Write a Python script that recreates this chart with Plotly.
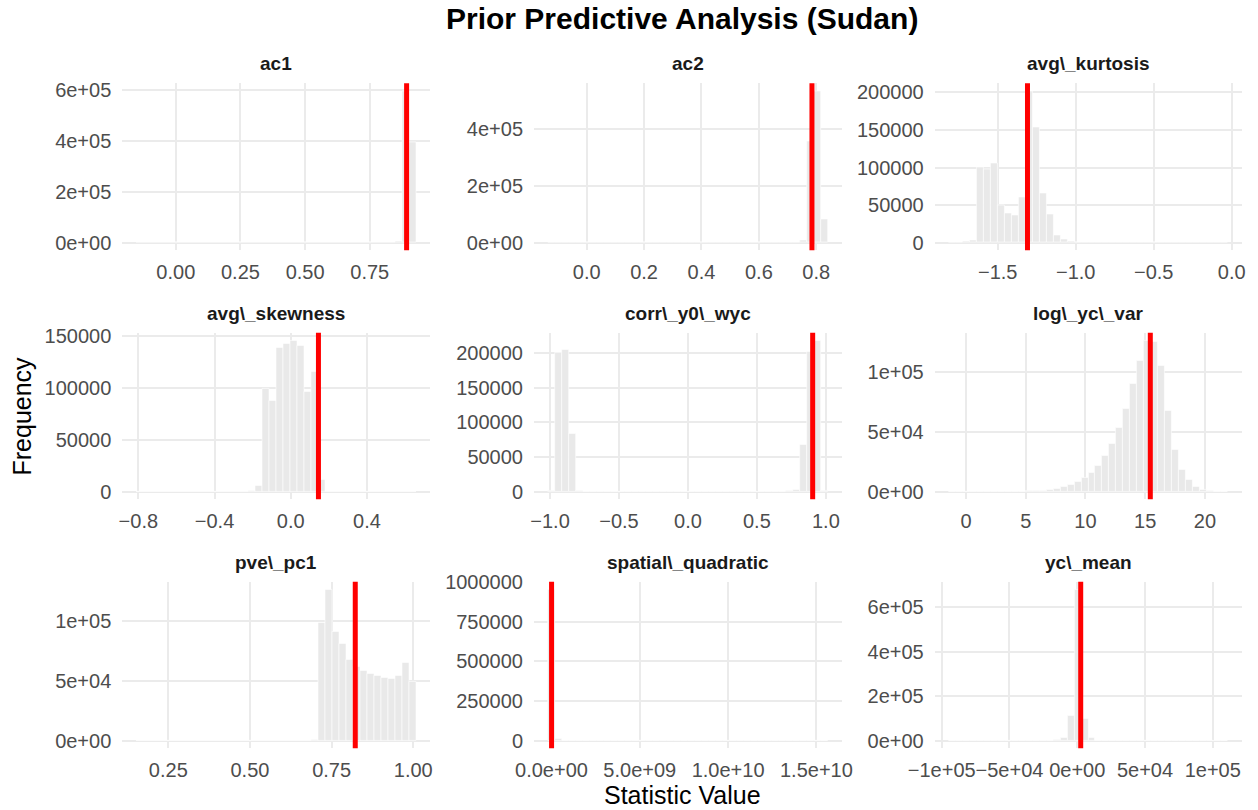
import plotly.graph_objects as go

# ---------------- data ----------------
panel_titles = ["ac1", "ac2", "avg\\_kurtosis",
                "avg\\_skewness", "corr\\_y0\\_wyc", "log\\_yc\\_var",
                "pve\\_pc1", "spatial\\_quadratic", "yc\\_mean"]

# left edge of the first bin and bin width (40 bins per panel)
bin_starts = [-0.153, -0.1349, -1.8144, -0.8106, -1.0146, -1.449, 0.152, -1.98e8, -94870]
bin_widths = [0.02705, 0.02437, 0.04473, 0.0367, 0.0507, 0.584, 0.02141, 3.96e8, 5149]

# observed statistic (red line)
observed = [0.8926, 0.785, -1.309, 0.1454, 0.9043, 15.43, 0.8224, 5e6, 2580]

ac1_counts = [30, 20, 20, 30, 20, 20, 20, 20, 20, 20, 20, 20, 20, 20, 20, 20, 20, 20, 20, 20,
              20, 30, 30, 30, 30, 40, 40, 50, 60, 80, 100, 150, 200, 300, 500, 1000, 2500, 7000,
              595000, 393000]
ac2_counts = [40, 30, 30, 30, 30, 30, 30, 30, 30, 30, 30, 30, 30, 30, 30, 30, 30, 30, 30, 30,
              30, 30, 40, 40, 40, 50, 50, 60, 80, 100, 150, 200, 300, 500, 900, 2000, 9000,
              355000, 533000, 83000]
avg_kurtosis_counts = [800, 1000, 1500, 3500, 100000, 98000, 106000, 50000, 39000, 37000,
                       61000, 202000, 154000, 66000, 38000, 9300, 4500, 2000, 1000, 700,
                       500, 400, 300, 250, 200, 150, 120, 100, 100, 80, 80, 60, 50, 50, 40,
                       40, 30, 30, 20, 20]
avg_skewness_counts = [30, 30, 30, 30, 30, 30, 30, 40, 40, 50, 60, 80, 100, 150, 200, 300, 600,
                       5800, 99400, 87500, 138000, 142700, 145600, 140000, 96000, 115000, 12000,
                       400, 100, 60, 40, 30, 30, 30, 30, 30, 30, 30, 30, 30]
corr_y0_wyc_counts = [1500, 200000, 205000, 83400, 1500, 300, 150, 100, 80, 60, 50, 50, 50, 50,
                      50, 50, 50, 50, 50, 50, 50, 50, 50, 50, 50, 50, 50, 60, 80, 100, 150, 200,
                      300, 500, 900, 2500, 67500, 202000, 218000, 1000]
log_yc_var_counts = [300, 150, 100, 50, 50, 50, 80, 100, 150, 200, 300, 500, 700, 1000,
                     1400, 2800, 4000, 5600, 8400, 11800, 16300, 21800, 30000, 40000, 53800,
                     70000, 90500, 110000, 127000, 126000, 105600, 68000, 35600, 18200, 9800,
                     4200, 1500, 500, 200, 100]
pve_pc1_counts = [50, 20, 20, 20, 20, 20, 20, 20, 20, 20, 20, 20, 20, 20, 20, 20, 20, 20, 20,
                  30, 40, 60, 100, 200, 400, 1000, 98500, 126700, 91500, 81000, 67600, 62000,
                  58500, 56300, 54000, 53000, 52000, 54300, 65600, 49000]
spatial_quadratic_counts = [953500, 12000, 3000, 1500, 900, 600, 400, 300, 250, 200, 150, 120,
                            100, 90, 80, 70, 60, 50, 50, 40, 40, 40, 30, 30, 30, 30, 20, 20,
                            20, 20, 20, 20, 20, 20, 20, 20, 20, 20, 20, 20]
yc_mean_counts = [100, 60, 60, 60, 60, 60, 60, 80, 100, 150, 200, 300, 400, 600, 1000, 2500,
                  12000, 113000, 680000, 100000, 12000, 2000, 800, 400, 300, 200, 150, 100,
                  100, 80, 60, 60, 60, 50, 50, 50, 50, 50, 50, 50]

all_counts = [ac1_counts, ac2_counts, avg_kurtosis_counts, avg_skewness_counts,
              corr_y0_wyc_counts, log_yc_var_counts, pve_pc1_counts,
              spatial_quadratic_counts, yc_mean_counts]

x_tickvals = [[0, 0.25, 0.5, 0.75],
              [0, 0.2, 0.4, 0.6, 0.8],
              [-1.5, -1.0, -0.5, 0.0],
              [-0.8, -0.4, 0.0, 0.4],
              [-1.0, -0.5, 0.0, 0.5, 1.0],
              [0, 5, 10, 15, 20],
              [0.25, 0.5, 0.75, 1.0],
              [0, 5e9, 1e10, 1.5e10],
              [-1e5, -5e4, 0, 5e4, 1e5]]
x_ticktext = [["0.00", "0.25", "0.50", "0.75"],
              ["0.0", "0.2", "0.4", "0.6", "0.8"],
              ["\u22121.5", "\u22121.0", "\u22120.5", "0.0"],
              ["\u22120.8", "\u22120.4", "0.0", "0.4"],
              ["\u22121.0", "\u22120.5", "0.0", "0.5", "1.0"],
              ["0", "5", "10", "15", "20"],
              ["0.25", "0.50", "0.75", "1.00"],
              ["0.0e+00", "5.0e+09", "1.0e+10", "1.5e+10"],
              ["\u22121e+05", "\u22125e+04", "0e+00", "5e+04", "1e+05"]]
y_tickvals = [[0, 2e5, 4e5, 6e5],
              [0, 2e5, 4e5],
              [0, 50000, 100000, 150000, 200000],
              [0, 50000, 100000, 150000],
              [0, 50000, 100000, 150000, 200000],
              [0, 5e4, 1e5],
              [0, 5e4, 1e5],
              [0, 250000, 500000, 750000, 1000000],
              [0, 2e5, 4e5, 6e5]]
y_ticktext = [["0e+00", "2e+05", "4e+05", "6e+05"],
              ["0e+00", "2e+05", "4e+05"],
              ["0", "50000", "100000", "150000", "200000"],
              ["0", "50000", "100000", "150000"],
              ["0", "50000", "100000", "150000", "200000"],
              ["0e+00", "5e+04", "1e+05"],
              ["0e+00", "5e+04", "1e+05"],
              ["0", "250000", "500000", "750000", "1000000"],
              ["0e+00", "2e+05", "4e+05", "6e+05"]]

main_title = "Prior Predictive Analysis (Sudan)"
x_title = "Statistic Value"
y_title = "Frequency"

# ---------------- layout geometry ----------------
W, H = 1258, 810
col_px = [(122.3, 430.0), (534.0, 841.7), (934.7, 1241.7)]
row_px = [(83.3, 250.3), (332.7, 499.3), (581.7, 748.3)]

FONT = "Liberation Sans, Arial, sans-serif"
GRID = "#ebebeb"
BAR_FILL = "#e9e9e9"

fig = go.Figure()
layout = dict(
    template="none",
    width=W, height=H,
    margin=dict(l=0, r=0, t=0, b=0, pad=0, autoexpand=False),
    paper_bgcolor="white", plot_bgcolor="white",
    showlegend=False,
    bargap=0,
    font=dict(family=FONT, color="#4d4d4d"),
)
shapes = []
annotations = []

for i in range(9):
    r, c = divmod(i, 3)
    n = i + 1
    xa = "xaxis" if n == 1 else f"xaxis{n}"
    ya = "yaxis" if n == 1 else f"yaxis{n}"
    xr = "x" if n == 1 else f"x{n}"
    yr = "y" if n == 1 else f"y{n}"

    cnt = all_counts[i]
    w = bin_widths[i]
    s = bin_starts[i]
    centers = [s + w * (k + 0.5) for k in range(len(cnt))]

    fig.add_trace(go.Bar(
        x=centers, y=cnt, width=[w] * len(cnt),
        marker=dict(color=BAR_FILL, line=dict(color="white", width=0.6)),
        xaxis=xr, yaxis=yr, hoverinfo="x+y",
    ))

    lo = min(s, observed[i])
    hi = max(s + w * len(cnt), observed[i])
    pad = 0.05 * (hi - lo)
    M = max(cnt)

    x0p, x1p = col_px[c]
    y0p, y1p = row_px[r]
    layout[xa] = dict(
        domain=[x0p / W, x1p / W], anchor=yr,
        range=[lo - pad, hi + pad], autorange=False,
        tickmode="array", tickvals=x_tickvals[i], ticktext=x_ticktext[i],
        tickangle=0, automargin=False,
        showgrid=True, gridcolor=GRID, gridwidth=1.5,
        zeroline=False, showline=False,
        ticks="outside", ticklen=4, tickcolor="rgba(0,0,0,0)",
        tickfont=dict(size=20, color="#4d4d4d", family=FONT),
    )
    layout[ya] = dict(
        domain=[1 - y1p / H, 1 - y0p / H], anchor=xr,
        range=[-0.05 * M, 1.05 * M], autorange=False,
        tickmode="array", tickvals=y_tickvals[i], ticktext=y_ticktext[i],
        automargin=False,
        showgrid=True, gridcolor=GRID, gridwidth=1.5,
        zeroline=False, showline=False,
        ticks="outside", ticklen=6, tickcolor="rgba(0,0,0,0)",
        tickfont=dict(size=20, color="#4d4d4d", family=FONT),
    )
    shapes.append(dict(
        type="line", xref=xr, yref=f"{yr} domain",
        x0=observed[i], x1=observed[i], y0=0, y1=1,
        line=dict(color="#ff0000", width=5), layer="above",
    ))
    annotations.append(dict(
        text=f"<b>{panel_titles[i]}</b>", xref="paper", yref="paper",
        x=(x0p + x1p) / 2 / W, y=1 - y0p / H, yshift=7,
        xanchor="center", yanchor="bottom", showarrow=False,
        font=dict(size=19, color="#1a1a1a", family=FONT),
    ))

annotations.append(dict(
    text=f"<b>{main_title}</b>", xref="paper", yref="paper",
    x=682 / W, y=1 - 18 / H, xanchor="center", yanchor="middle", showarrow=False,
    font=dict(size=30, color="black", family=FONT),
))
annotations.append(dict(
    text=x_title, xref="paper", yref="paper",
    x=682 / W, y=1 - 795 / H, xanchor="center", yanchor="middle", showarrow=False,
    font=dict(size=25, color="black", family=FONT),
))
annotations.append(dict(
    text=y_title, xref="paper", yref="paper", textangle=-90,
    x=21.7 / W, y=1 - 415.8 / H, xanchor="center", yanchor="middle", showarrow=False,
    font=dict(size=25, color="black", family=FONT),
))

layout["shapes"] = shapes
layout["annotations"] = annotations
fig.update_layout(**layout)
fig.write_html(
    "out.html",
    config={"displayModeBar": False},
    post_script="document.body.style.margin='0px';document.body.style.overflow='hidden';",
)
